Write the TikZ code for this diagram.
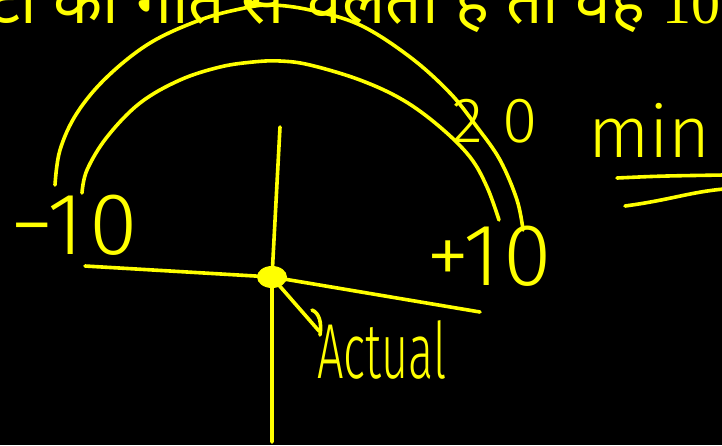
\documentclass[tikz,border=0pt]{standalone}
\usepackage{fontspec}
\usetikzlibrary{shapes.geometric}
\newfontfamily\hindi[Script=Devanagari]{Noto Sans}
\newfontfamily\serifnum{Liberation Serif}
\newfontfamily\hand{Fira Sans Light}
\definecolor{pen}{RGB}{255,255,0}
\begin{document}
\begin{tikzpicture}[x=1pt,y=-1pt,
  stroke/.style={draw=pen,line width=3.6pt,line cap=round,line join=round},
  lbl/.style={text=pen,inner sep=0pt,outer sep=0pt}]
\fill[black] (0,0) rectangle (722,445);
\useasboundingbox (0,0) rectangle (722,445);
\begin{scope}
\clip (0,0) rectangle (722,445);
\node[lbl,anchor=base east,font=\hindi\fontsize{64}{70}\selectfont] (title) at (720,23) {घंटा की गति से चलता है तो वह {\serifnum\fontsize{58}{60}\selectfont 10}};
% outer arc
\draw[stroke] plot[smooth,tension=0.6] coordinates {(55,185) (60,150) (77,113) (107,77) (150,43) (200,20) (240,9) (270,5) (310,10) (360,25) (410,57) (450,93) (477,127) (500,160) (517,200) (523,230)};
% inner arc
\draw[stroke] plot[smooth,tension=0.6] coordinates {(82,193) (87,170) (107,137) (140,103) (180,80) (220,67) (253,62) (280,61) (310,65) (360,80) (403,100) (440,127) (470,157) (487,187) (499,220)};
% axes
\node[fill=pen,ellipse,minimum width=30pt,minimum height=22pt,inner sep=0pt] (o) at (272,277) {};
\coordinate (xl) at (85,266);
\coordinate (xr) at (480,312);
\coordinate (yt) at (280,127);
\coordinate (yb) at (272,442);
\draw[stroke] (xl) -- (o.center) -- (xr);
\draw[stroke] (yt) -- (o.center) -- (yb);
% labels
\node[lbl,anchor=base west,font=\hand\fontsize{88}{96}\selectfont] (m10) at (10,254) {−1\kern6pt 0};
\node[lbl,anchor=base west,font=\hand\fontsize{88}{96}\selectfont] (p10) at (426,285) {+1\kern4pt 0};
\node[lbl,anchor=base west,font=\hand\fontsize{64}{70}\selectfont] (twenty) at (452,142) {2\kern20pt 0};
\node[lbl,anchor=base west,font=\hand\fontsize{72}{80}\selectfont] (min) at (588,157) {min};
\node[lbl,anchor=base west,font=\hand\fontsize{78}{88}\selectfont] (act) at (317,378) {\scalebox{0.6}[1]{Actual}};
% arrow
\coordinate (atip) at (319,331);
\draw[stroke] (o.south east) ++(-4,0) -- (atip);
\draw[stroke] (312,310) .. controls (319,313) and (322,322) .. (320,335);
% underline
\coordinate (u1a) at (617,178);
\coordinate (u1b) at (724,175);
\coordinate (u2a) at (625,206);
\coordinate (u2b) at (724,189);
\draw[stroke] (u1a) .. controls (660,176) .. (u1b);
\draw[stroke] (u2a) .. controls (670,200) and (690,192) .. (u2b);
\end{scope}
\end{tikzpicture}
\end{document}
